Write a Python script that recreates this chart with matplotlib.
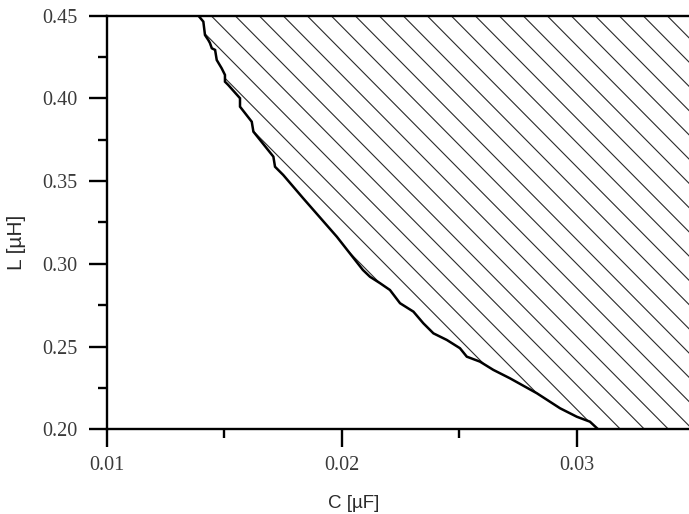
import numpy as np
import matplotlib
matplotlib.use("Agg")
import matplotlib.pyplot as plt
from matplotlib.patches import Polygon

# Boundary of the admissible region: capacitance C [uF] vs inductance L [uH]
cap_uF = [0.01391, 0.01412, 0.01419, 0.01433, 0.01440, 0.01448, 0.01462, 0.01469,
          0.01490, 0.01504, 0.01504, 0.01518, 0.01568, 0.01568, 0.01618, 0.01625,
          0.01710, 0.01717, 0.01752, 0.01837, 0.01980, 0.02091, 0.02121, 0.02164,
          0.02206, 0.02249, 0.02306, 0.02348, 0.02391, 0.02448, 0.02504, 0.02533,
          0.02589, 0.02646, 0.02717, 0.02831, 0.02930, 0.03001, 0.03057, 0.03092]
ind_uH = [0.4500, 0.4464, 0.4383, 0.4353, 0.4335, 0.4303, 0.4293, 0.4232,
          0.4182, 0.4142, 0.4101, 0.4081, 0.4001, 0.3950, 0.3859, 0.3799,
          0.3648, 0.3587, 0.3537, 0.3396, 0.3164, 0.2963, 0.2922, 0.2883,
          0.2842, 0.2762, 0.2711, 0.2641, 0.2580, 0.2540, 0.2490, 0.2439,
          0.2409, 0.2359, 0.2308, 0.2218, 0.2127, 0.2076, 0.2046, 0.2000]

x_range = (0.01, 0.035)
y_range = (0.20, 0.45)
x_major = [0.01, 0.02, 0.03]
x_minor = [0.015, 0.025, 0.035]
y_major = [0.20, 0.25, 0.30, 0.35, 0.40, 0.45]
y_minor = [0.225, 0.275, 0.325, 0.375, 0.425]

fig = plt.figure(figsize=(6.89, 5.14), dpi=100)
ax = fig.add_axes([0.1546, 0.1648, 0.8527, 0.8047])
ax.set_xlim(*x_range)
ax.set_ylim(*y_range)

# Hatched region to the right of the boundary
poly_x = list(cap_uF) + [x_range[1] + 0.01, x_range[1] + 0.01]
poly_y = list(ind_uH) + [y_range[0], y_range[1]]
region = Polygon(np.column_stack([poly_x, poly_y]), closed=True,
                 facecolor="none", edgecolor="none")
ax.add_patch(region)

hatch_step = 0.0010213      # horizontal spacing of hatch lines (in C units)
hatch_slope = -14.35        # dL/dC of hatch lines
hatch_start = 0.01445       # C where the first hatch line meets L = 0.45
c0 = hatch_start - 20 * hatch_step
while c0 < x_range[1] + 0.002:
    ys = np.array([y_range[1] + 0.01, y_range[0] - 0.01])
    xs = c0 + (ys - y_range[1]) / hatch_slope
    ln, = ax.plot(xs, ys, color="#2a2a2a", lw=0.8, solid_capstyle="butt")
    ln.set_clip_path(region)
    c0 += hatch_step

ax.plot(cap_uF, ind_uH, color="black", lw=1.8, solid_joinstyle="miter")

# Axes styling
for side in ("left", "bottom", "top"):
    ax.spines[side].set_linewidth(1.7)
ax.spines["right"].set_visible(False)

ax.set_xticks(x_major)
ax.set_xticks(x_minor, minor=True)
ax.set_yticks(y_major)
ax.set_yticks(y_minor, minor=True)
ax.set_xticklabels(["0.01", "0.02", "0.03"])
ax.set_yticklabels([f"{v:.2f}" for v in y_major])
ax.tick_params(which="major", length=13, width=1.7, direction="out",
               labelsize=14.5, labelcolor="#3a3a3a")
ax.tick_params(axis="x", which="major", pad=6)
ax.tick_params(axis="y", which="major", pad=8)
ax.tick_params(which="minor", length=6.5, width=1.7, direction="out")
ax.tick_params(axis="x", which="both", top=False)
ax.tick_params(axis="y", which="both", right=False)
for lab in ax.get_xticklabels() + ax.get_yticklabels():
    lab.set_family("Liberation Serif")

ax.set_xlabel("C [µF]", family="Liberation Sans", fontsize=13.5, color="#2a2a2a")
ax.set_ylabel("L [µH]", family="Liberation Sans", fontsize=15, color="#2a2a2a")
ax.xaxis.set_label_coords(0.421, -0.16)
ax.yaxis.set_label_coords(-0.137, 0.453)

fig.savefig("out.png", dpi=100)
